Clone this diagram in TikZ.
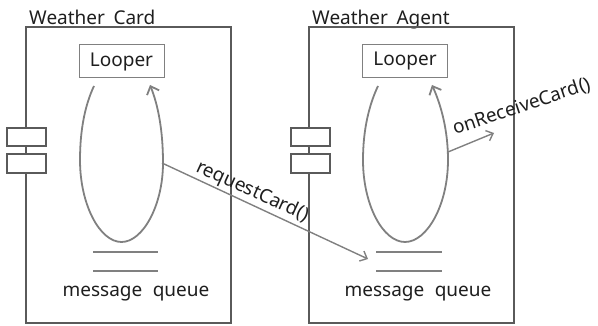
\documentclass[tikz,border=0pt]{standalone}
\usepackage{fontspec}
\setmainfont{Noto Sans}
\usetikzlibrary{arrows.meta}
\definecolor{frame}{HTML}{5A5A5A}
\definecolor{inner}{HTML}{808080}
\definecolor{ink}{HTML}{1E1E1E}
\begin{document}
\begin{tikzpicture}[x=1pt,y=-1pt,
  txt/.style={font=\fontsize{19}{22}\selectfont,text=ink,inner sep=0pt},
  card/.style={draw=frame,line width=2.4pt},
  port/.style={draw=frame,line width=2pt,fill=white,inner sep=0pt,minimum width=39pt},
  looperbox/.style={draw=inner,line width=1pt,txt,minimum width=85pt,minimum height=33pt},
  loopline/.style={draw=inner,line width=1.8pt},
  queueline/.style={draw=inner,line width=2pt},
  msg/.style={draw=inner,line width=1.4pt,-{Straight Barb[length=6pt,width=11pt,line width=1.4pt]}}]
\useasboundingbox (0,0) rectangle (598,326);

% ---- Weather Card ----
\node[txt,anchor=base west] (titleL) at (29,25) {Weather\hspace{0.45em}Card};
\draw[card] (26,27) rectangle (231,323);
\node[port,minimum height=18pt] (pL1) at (26.5,137) {};
\node[port,minimum height=19pt] (pL2) at (26.5,164) {};
\node[looperbox] (looperL) at (121.5,61.5) {Looper};
\draw[loopline,-{Straight Barb[length=7pt,width=13pt,line width=1.8pt]}]
  (94,86) .. controls (85,105) and (80,130) .. (80,160)
  .. controls (80,205) and (100,242) .. (121.5,242)
  .. controls (143,242) and (163,205) .. (163,163)
  .. controls (163,130) and (158,105) .. (150,85);
\coordinate (outL) at (162,163);
\draw[queueline] (93,252) -- (158,252);
\draw[queueline] (93,271.5) -- (158,271.5);
\node[txt,anchor=base] (queueL) at (136,296.5) {message\hspace{0.55em}queue};

% ---- Weather Agent ----
\node[txt,anchor=base west] (titleR) at (312,25) {Weather\hspace{0.45em}Agent};
\draw[card] (309,27) rectangle (514,323);
\node[port,minimum height=18pt] (pR1) at (310,137) {};
\node[port,minimum height=19pt] (pR2) at (310,164) {};
\node[looperbox] (looperR) at (405,61) {Looper};
\draw[loopline,-{Straight Barb[length=7pt,width=13pt,line width=1.8pt]}]
  (378,86) .. controls (369,105) and (363,130) .. (363,160)
  .. controls (363,205) and (383,242) .. (405,242)
  .. controls (427,242) and (448,205) .. (448,160)
  .. controls (448,130) and (441,105) .. (432,85);
\coordinate (outR) at (448,152);
\coordinate (away) at (494,133);
\coordinate (inR) at (368,259);
\draw[queueline] (376,252) -- (442,252);
\draw[queueline] (376,271.5) -- (442,271.5);
\node[txt,anchor=base] (queueR) at (418,296.5) {message\hspace{0.55em}queue};

% ---- messages ----
\draw[msg] (outL) -- (inR);
\node[txt,anchor=base west,rotate=-24.5] (req) at (195,171) {requestCard()};
\draw[msg] (outR) -- (away);
\node[txt,anchor=base west,rotate=18.5] (recv) at (455,135) {onReceiveCard()};
\end{tikzpicture}
\end{document}
